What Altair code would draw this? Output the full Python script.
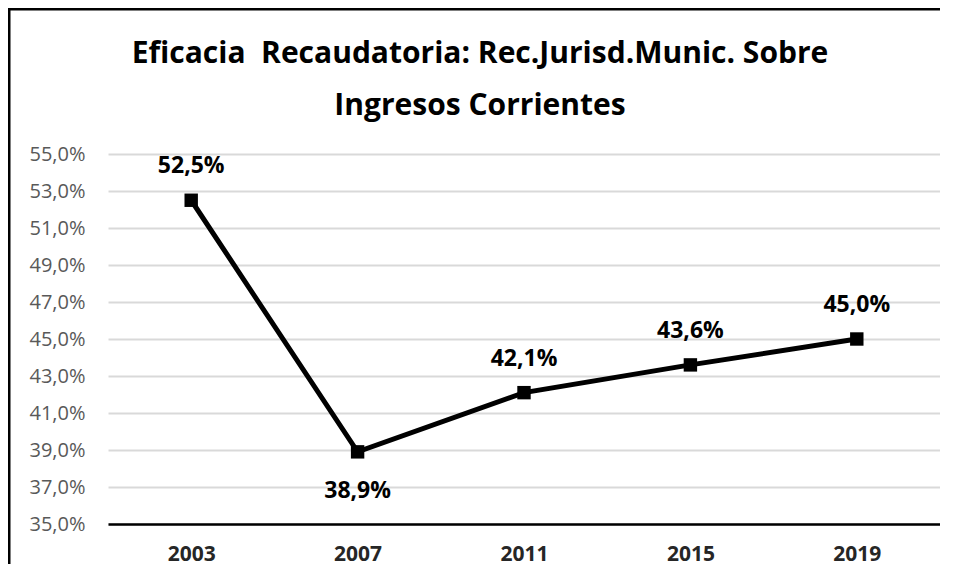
import altair as alt
import pandas as pd

years = ["2003", "2007", "2011", "2015", "2019"]
values = [52.5, 38.9, 42.1, 43.6, 45.0]
label_pos = ["above", "below", "above", "above", "above"]
y_ticks = [35, 37, 39, 41, 43, 45, 47, 49, 51, 53, 55]
title_lines = ["Eficacia\u00a0 Recaudatoria: Rec.Jurisd.Munic. Sobre", "Ingresos Corrientes"]

df = pd.DataFrame({
    "year": years,
    "value": values,
    "pos": label_pos,
    "label": [f"{v:.1f}".replace(".", ",") + "%" for v in values],
})
title_df = pd.DataFrame({"line": [0, 1], "text": title_lines})
frame_df = pd.DataFrame({"edge": ["frame"]})

W, H = 832, 370
FONT = "Open Sans"

base = alt.Chart(df)

x = alt.X("year:N", sort=years, title=None,
          scale=alt.Scale(paddingInner=0, paddingOuter=0.5),
          axis=alt.Axis(labelAngle=0, labelFont=FONT, labelFontSize=21, labelFontWeight="bold",
                        labelColor="#262626", labelPadding=19, ticks=False,
                        domainColor="#000000", domainWidth=2.5, grid=False))
y = alt.Y("value:Q", title=None,
          scale=alt.Scale(domain=[35, 55], nice=False, zero=False),
          axis=alt.Axis(values=y_ticks, labelFont=FONT, labelFontSize=20, labelColor="#595959",
                        labelPadding=23, ticks=False, domain=False,
                        gridColor="#d9d9d9", gridWidth=2,
                        labelExpr="replace(format(datum.value, '.1f'), '.', ',') + '%'"))

line = base.mark_line(color="#000000", strokeWidth=5).encode(x=x, y=y)
pts = base.mark_point(shape="square", filled=True, size=180, color="#000000", opacity=1).encode(x=x, y=y)
above = base.transform_filter("datum.pos == 'above'").mark_text(
    font=FONT, fontSize=23, fontWeight="bold", color="#000000", dy=-34, baseline="middle"
).encode(x=x, y=y, text="label:N")
below = base.transform_filter("datum.pos == 'below'").mark_text(
    font=FONT, fontSize=23, fontWeight="bold", color="#000000", dy=39, baseline="middle"
).encode(x=x, y=y, text="label:N")

# chart title (two lines) drawn as text in the top padding
title1 = alt.Chart(title_df).transform_filter("datum.line == 0").mark_text(
    font=FONT, fontSize=30, fontWeight="bold", color="#000000", align="center", baseline="alphabetic"
).encode(x=alt.value(372), y=alt.value(-91), text="text:N")
title2 = alt.Chart(title_df).transform_filter("datum.line == 1").mark_text(
    font=FONT, fontSize=30, fontWeight="bold", color="#000000", align="center", baseline="alphabetic"
).encode(x=alt.value(372), y=alt.value(-39), text="text:N")

# decorative chart frame (top and left edges) as thin filled rectangles
frame_top = alt.Chart(frame_df).mark_rect(color="#000000").encode(
    x=alt.value(-100.5), x2=alt.value(W), y=alt.value(-146.5), y2=alt.value(-143.5))
frame_left = alt.Chart(frame_df).mark_rect(color="#000000").encode(
    x=alt.value(-100.5), x2=alt.value(-97.5), y=alt.value(-146.5), y2=alt.value(H + 40))

chart = alt.layer(line, pts, above, below, title1, title2, frame_top, frame_left).properties(
    width=W, height=H,
    autosize=alt.AutoSizeParams(type="none"),
    padding={"left": 100, "top": 146, "right": 0, "bottom": 42},
).configure_view(strokeWidth=0)

chart.save("out.html", embed_options={"renderer": "svg", "actions": False})
